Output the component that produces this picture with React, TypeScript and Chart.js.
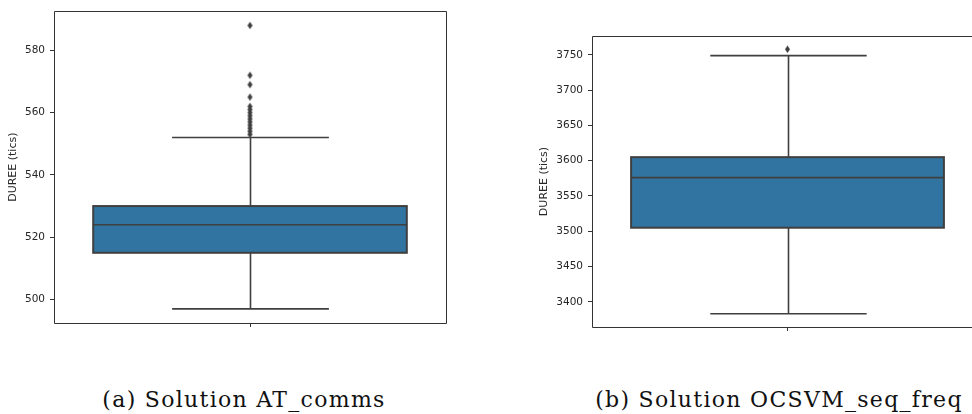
import React, { useEffect, useRef } from 'react';
import { Chart, registerables } from 'chart.js';

Chart.register(...registerables);

// ---- data: chart (a) ----
const A_LABELS = ['AT_comms'];
const A_STATS = [497, 515, 524, 530, 552]; // low whisker, Q1, median, Q3, high whisker
const A_OUTLIERS = [553, 554, 555, 556, 557, 558, 559, 560, 561, 562, 565, 569, 572, 588];
const A_TICKS = [500, 520, 540, 560, 580];
const A_LIMITS = [492.45, 592.55];
const A_CAPTION = '(a) Solution AT_comms';

// ---- data: chart (b) ----
const B_LABELS = ['OCSVM_seq_freq'];
const B_STATS = [3383, 3505, 3576, 3605, 3749];
const B_OUTLIERS = [3758];
const B_TICKS = [3400, 3450, 3500, 3550, 3600, 3650, 3700, 3750];
const B_LIMITS = [3364.25, 3776.75];
const B_CAPTION = '(b) Solution OCSVM_seq_freq';

const Y_TITLE = 'DUREE (tics)';

const BOX_FILL = '#3274a1';
const LINE = '#3f3f3f';
const SPINE = '#333333';
const TEXT = '#262626';

function makeDiamond(): HTMLCanvasElement {
  const c = document.createElement('canvas');
  c.width = 7;
  c.height = 9;
  const ctx = c.getContext('2d')!;
  ctx.fillStyle = LINE;
  ctx.beginPath();
  ctx.moveTo(3.5, 0.8);
  ctx.lineTo(6, 4.5);
  ctx.lineTo(3.5, 8.2);
  ctx.lineTo(1, 4.5);
  ctx.closePath();
  ctx.fill();
  return c;
}

type BoxProps = {
  labels: string[];
  stats: number[];
  outliers: number[];
  ticks: number[];
  limits: number[];
  width: number;
  height: number;
  padding: { top: number; right: number; left: number; bottom: number };
  yAxisWidth: number;
  xAxisHeight: number;
  titlePad: number;
};

function BoxChart(props: BoxProps) {
  const ref = useRef<HTMLCanvasElement>(null);
  useEffect(() => {
    const { labels, stats, outliers, ticks, limits, padding, yAxisWidth, xAxisHeight, titlePad } = props;
    const boxParts = {
      id: 'boxParts',
      afterDatasetsDraw(chart: any) {
        const bar = chart.getDatasetMeta(0).data[0];
        if (!bar) return;
        const ys = chart.scales.y;
        const ctx = chart.ctx;
        const cx = Math.round(bar.x) + 0.5;
        const half = bar.width / 2;
        ctx.save();
        ctx.strokeStyle = LINE;
        ctx.lineWidth = 1.6;
        const yLow = ys.getPixelForValue(stats[0]);
        const yQ1 = ys.getPixelForValue(stats[1]);
        const yMed = ys.getPixelForValue(stats[2]);
        const yQ3 = ys.getPixelForValue(stats[3]);
        const yHigh = ys.getPixelForValue(stats[4]);
        ctx.beginPath();
        // whiskers
        ctx.moveTo(cx, yQ1);
        ctx.lineTo(cx, yLow);
        ctx.moveTo(cx, yQ3);
        ctx.lineTo(cx, yHigh);
        // caps (half the box width)
        ctx.moveTo(cx - half / 2, yLow);
        ctx.lineTo(cx + half / 2, yLow);
        ctx.moveTo(cx - half / 2, yHigh);
        ctx.lineTo(cx + half / 2, yHigh);
        // median
        ctx.moveTo(bar.x - half, yMed);
        ctx.lineTo(bar.x + half, yMed);
        ctx.stroke();
        // box outline
        ctx.lineWidth = 2;
        ctx.strokeRect(bar.x - half, yQ3, 2 * half, yQ1 - yQ3);
        ctx.restore();
      },
      afterDraw(chart: any) {
        const a = chart.chartArea;
        const ctx = chart.ctx;
        ctx.save();
        ctx.strokeStyle = SPINE;
        ctx.lineWidth = 1;
        const l = Math.round(a.left) + 0.5;
        const t = Math.round(a.top) + 0.5;
        const r = Math.round(a.right) + 0.5;
        const b = Math.round(a.bottom) + 0.5;
        ctx.beginPath();
        ctx.moveTo(l, t);
        ctx.lineTo(r, t);
        ctx.lineTo(r, b);
        ctx.lineTo(l, b);
        ctx.closePath();
        ctx.stroke();
        ctx.restore();
      },
    };

    const chart = new Chart(ref.current!, {
      type: 'bar',
      data: {
        labels,
        datasets: [
          {
            type: 'bar',
            data: [[stats[1], stats[3]]] as any,
            backgroundColor: BOX_FILL,
            borderWidth: 0,
            barPercentage: 0.8,
            categoryPercentage: 1,
          } as any,
          {
            type: 'line',
            data: outliers.map((v) => ({ x: labels[0], y: v })) as any,
            showLine: false,
            pointStyle: makeDiamond(),
            pointRadius: 3,
            borderColor: LINE,
            backgroundColor: LINE,
          } as any,
        ],
      },
      options: {
        animation: false,
        responsive: false,
        maintainAspectRatio: false,
        events: [],
        layout: { padding },
        plugins: {
          legend: { display: false },
          tooltip: { enabled: false },
        },
        scales: {
          x: {
            type: 'category',
            offset: true,
            grid: {
              display: true,
              offset: false,
              drawOnChartArea: false,
              drawTicks: true,
              tickLength: 4,
              tickColor: SPINE,
              color: SPINE,
            },
            border: { display: false },
            ticks: { callback: () => '', padding: 0 },
            afterFit: (s: any) => {
              s.height = xAxisHeight;
            },
          },
          y: {
            type: 'linear',
            min: limits[0],
            max: limits[1],
            afterBuildTicks: (s: any) => {
              s.ticks = ticks.map((v) => ({ value: v }));
            },
            ticks: {
              color: TEXT,
              font: { family: 'DejaVu Sans', size: 10.5 },
              padding: 5,
              callback: (v: any) => String(v),
            },
            grid: {
              drawOnChartArea: false,
              drawTicks: true,
              tickLength: 4,
              tickColor: SPINE,
              color: SPINE,
            },
            border: { display: false },
            title: {
              display: true,
              text: Y_TITLE,
              color: TEXT,
              font: { family: 'DejaVu Sans', size: 11 },
              padding: { top: titlePad, bottom: 0 },
            },
            afterFit: (s: any) => {
              s.width = yAxisWidth;
            },
          },
        },
      } as any,
      plugins: [boxParts],
    });
    return () => chart.destroy();
  }, []);
  return (
    <canvas
      ref={ref}
      width={props.width}
      height={props.height}
      style={{ width: props.width, height: props.height, display: 'block' }}
    />
  );
}

const captionStyle: React.CSSProperties = {
  position: 'absolute',
  width: 440,
  textAlign: 'center',
  fontFamily: '"DejaVu Serif", serif',
  fontSize: 22,
  lineHeight: '22px',
  letterSpacing: '1.3px',
  color: '#111',
  whiteSpace: 'nowrap',
};

export default function App() {
  return (
    <div
      style={{
        position: 'absolute',
        left: 0,
        top: 0,
        width: 972,
        height: 414,
        overflow: 'hidden',
        background: '#fff',
      }}
    >
      <div style={{ position: 'absolute', left: 0, top: 0 }}>
        <BoxChart
          labels={A_LABELS}
          stats={A_STATS}
          outliers={A_OUTLIERS}
          ticks={A_TICKS}
          limits={A_LIMITS}
          width={460}
          height={340}
          padding={{ top: 8, right: 14, left: 0, bottom: 0 }}
          yAxisWidth={54}
          xAxisHeight={17}
          titlePad={7}
        />
      </div>
      <div style={{ position: 'absolute', left: 500, top: 0 }}>
        <BoxChart
          labels={B_LABELS}
          stats={B_STATS}
          outliers={B_OUTLIERS}
          ticks={B_TICKS}
          limits={B_LIMITS}
          width={500}
          height={340}
          padding={{ top: 36, right: 17, left: 0, bottom: 0 }}
          yAxisWidth={92}
          xAxisHeight={13}
          titlePad={38}
        />
      </div>
      <div style={{ ...captionStyle, left: 244 - 220, top: 389 }}>{A_CAPTION}</div>
      <div style={{ ...captionStyle, left: 779 - 220, top: 389 }}>{B_CAPTION}</div>
    </div>
  );
}
